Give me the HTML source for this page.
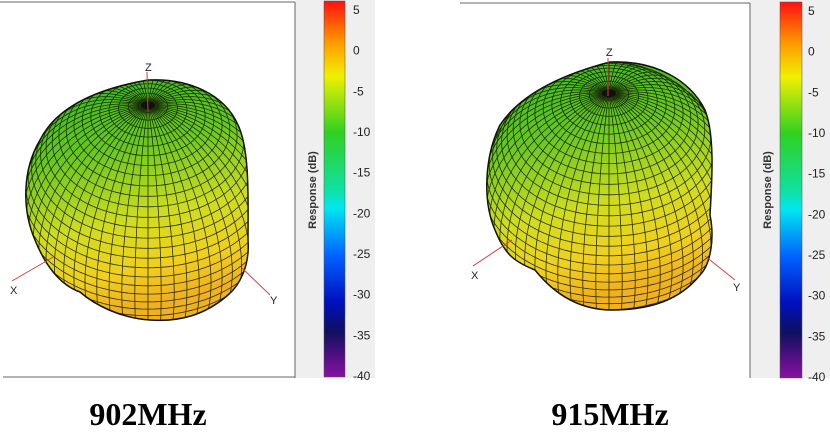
<!DOCTYPE html>
<html><head><meta charset="utf-8"><style>
html,body{margin:0;width:830px;height:435px;background:#fff;overflow:hidden}
svg{position:absolute;left:0;top:0;display:block}
</style></head><body>
<svg id="s" width="830" height="435" xmlns="http://www.w3.org/2000/svg" font-family="Liberation Sans, sans-serif">
<defs>
<linearGradient id="cb" x1="0" y1="0" x2="0" y2="1">
<stop offset="0" stop-color="#ff1010"/><stop offset="0.11" stop-color="#ff9a00"/>
<stop offset="0.2" stop-color="#f0f000"/><stop offset="0.35" stop-color="#30d020"/>
<stop offset="0.5" stop-color="#10e0a0"/><stop offset="0.55" stop-color="#00e8f0"/>
<stop offset="0.68" stop-color="#0060ff"/><stop offset="0.8" stop-color="#0010c0"/>
<stop offset="0.88" stop-color="#101060"/><stop offset="1" stop-color="#8a10a0"/>
</linearGradient>
<linearGradient id="bl" x1="0" y1="0" x2="0.2" y2="1">
<stop offset="0" stop-color="#30b820"/><stop offset="0.35" stop-color="#68c820"/>
<stop offset="0.65" stop-color="#d0dc20"/><stop offset="0.85" stop-color="#f0d020"/>
<stop offset="1" stop-color="#f0b020"/>
</linearGradient>
<clipPath id="c1"><path id="p1" d="M148,80 C190,78 225,95 238,125 C250,150 248,200 248,240 C250,265 240,285 228,295 C205,315 180,322 150,320 C120,318 95,305 80,292 C60,285 45,265 35,240 C22,210 22,170 40,140 C55,110 90,90 148,80 Z"/></clipPath>
<clipPath id="c2"><path id="p2" d="M610,62 C655,60 690,80 705,110 C715,135 712,180 710,215 C715,240 710,265 700,275 C680,300 650,310 612,310 C580,310 555,295 535,270 C515,262 505,255 495,230 C482,200 485,155 500,125 C520,95 560,75 610,62 Z"/></clipPath>
</defs>
<rect x="295" y="0" width="80" height="378" fill="#efefef"/>
<line x1="0" y1="2" x2="295" y2="2" stroke="#666"/>
<line x1="295" y1="2" x2="295" y2="378" stroke="#666"/>
<line x1="3" y1="377" x2="295" y2="377" stroke="#666"/>
<rect x="324" y="1" width="21" height="376" fill="url(#cb)" stroke="#555" stroke-width="0.5"/>
<rect x="750" y="0" width="80" height="378" fill="#efefef"/>
<line x1="460" y1="3" x2="750" y2="3" stroke="#666"/>
<line x1="750" y1="3" x2="750" y2="378" stroke="#666"/>
<rect x="780" y="2" width="22" height="376" fill="url(#cb)" stroke="#555" stroke-width="0.5"/>
<g id="g"></g>
<text x="148" y="425" text-anchor="middle" font-family="Liberation Serif, serif" font-weight="bold" font-size="32">902MHz</text>
<text x="610" y="425" text-anchor="middle" font-family="Liberation Serif, serif" font-weight="bold" font-size="32">915MHz</text>
<text transform="translate(316,190) rotate(-90)" text-anchor="middle" font-size="11" font-weight="bold" fill="#333">Response  (dB)</text>
<text transform="translate(771,190) rotate(-90)" text-anchor="middle" font-size="11" font-weight="bold" fill="#333">Response  (dB)</text>
</svg>
<script>
var g=document.getElementById('g'),NS='http://www.w3.org/2000/svg';
function el(t,a,p){var e=document.createElementNS(NS,t);for(var k in a)e.setAttribute(k,a[k]);(p||g).appendChild(e);return e;}
var labs=[5,0,-5,-10,-15,-20,-25,-30,-35,-40];
[[353,1,377],[808,2,378]].forEach(function(c){labs.forEach(function(v){var y=c[1]+(5-v)/45*(c[2]-c[1]-10)+9;
var t=el('text',{x:c[0],y:y+4,'font-size':12,fill:'#222'});t.textContent=v;});});
function blob(clip,path,cx,cy,Rx,Ry,axes){
 el('use',{href:'#'+path,fill:'url(#bl)'});
 var gg=el('g',{'clip-path':'url(#'+clip+')',stroke:'#142008','stroke-width':0.8,fill:'none',opacity:0.9});
 var a=40*Math.PI/180,ca=Math.cos(a),sa=Math.sin(a);
 function P(th,ph){var x=Math.sin(th)*Math.cos(ph),y=Math.sin(th)*Math.sin(ph),z=Math.cos(th);
  var vis=-y*ca+z*sa;
  return [cx+Rx*x, cy-Ry*(y*sa+z*ca), vis];}
 function poly(pts){var d='',on=false;pts.forEach(function(p){if(p[2]>-0.02){d+=(on?'L':'M')+p[0].toFixed(1)+','+p[1].toFixed(1);on=true;}else on=false;});if(d)el('path',{d:d},gg);}
 var D=Math.PI/180;
 for(var th=4.5;th<180;th+=4.5){var pts=[];for(var ph=0;ph<=360;ph+=3)pts.push(P(th*D,ph*D));poly(pts);}
 for(var ph=0;ph<360;ph+=6){var pts=[];for(var th=0;th<=180;th+=2)pts.push(P(th*D,ph*D));poly(pts);}
 el('use',{href:'#'+path,fill:'none',stroke:'#111','stroke-width':1.5});
 var pp=P(0,0);el('ellipse',{cx:pp[0],cy:pp[1],rx:7,ry:4,fill:'#111'});
 axes.forEach(function(l){el('line',{x1:l[0],y1:l[1],x2:l[2],y2:l[3],stroke:'#d04040','stroke-width':1});
  var t=el('text',{x:l[4],y:l[5],'font-size':11,fill:'#222'});t.textContent=l[6];});
}
blob('c1','p1',148,208,126,134,[[148,112,147,72,145,71,'Z'],[55,256,12,281,10,294,'X'],[242,268,270,295,270,304,'Y']]);
blob('c2','p2',609,196,126,134,[[608,96,608,58,606,56,'Z'],[512,240,473,266,471,279,'X'],[705,256,735,280,733,291,'Y']]);
</script>
</body></html>
